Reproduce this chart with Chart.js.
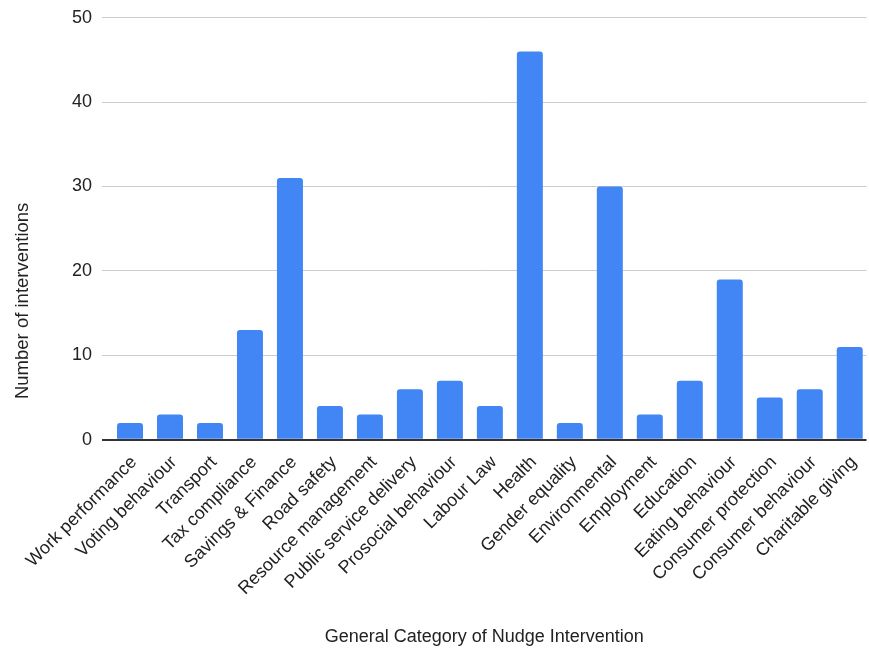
<!DOCTYPE html>
<html>
<head>
<meta charset="utf-8">
<script src="https://cdn.jsdelivr.net/npm/chart.js@4/dist/chart.umd.min.js"></script>
<style>
  html, body { margin: 0; padding: 0; background: #fff; }
  #wrap { width: 869px; height: 648px; }
</style>
</head>
<body>
<div id="wrap"><canvas id="c" width="869" height="648"></canvas></div>
<script>
const categories = [
  "Work performance", "Voting behaviour", "Transport", "Tax compliance",
  "Savings & Finance", "Road safety", "Resource management",
  "Public service delivery", "Prosocial behaviour", "Labour Law", "Health",
  "Gender equality", "Environmental", "Employment", "Education",
  "Eating behaviour", "Consumer protection", "Consumer behaviour",
  "Charitable giving"
];
const interventions = [2, 3, 2, 13, 31, 4, 3, 6, 7, 4, 46, 2, 30, 3, 7, 19, 5, 6, 11];
const yTicks = [0, 10, 20, 30, 40, 50];
const xTitle = 'General Category of Nudge Intervention';
const yTitle = 'Number of interventions';

const FONT = "'Liberation Sans', Arial, sans-serif";

// one bar per category, positioned by its index on a numeric x scale
const points = interventions.map((v, i) => ({ x: i, y: v }));

// vertical axis title, centred on the plot plus its label band
const yTitlePlugin = {
  id: 'yTitle',
  afterDraw(chart) {
    const { ctx, chartArea, height } = chart;
    const cy = (chartArea.top + height - 64) / 2;
    ctx.save();
    ctx.font = '18.5px ' + FONT;
    ctx.fillStyle = '#222';
    ctx.textAlign = 'center';
    ctx.textBaseline = 'alphabetic';
    ctx.translate(28, cy);
    ctx.rotate(-Math.PI / 2);
    ctx.fillText(yTitle, 0, 0);
    ctx.restore();
  }
};

new Chart(document.getElementById('c'), {
  type: 'bar',
  data: {
    datasets: [{
      data: points,
      backgroundColor: '#4285F4',
      borderRadius: { topLeft: 3, topRight: 3, bottomLeft: 0, bottomRight: 0 },
      borderSkipped: 'start',
      categoryPercentage: 1,
      barPercentage: 0.65
    }]
  },
  plugins: [yTitlePlugin],
  options: {
    responsive: false,
    animation: false,
    devicePixelRatio: 1,
    layout: { padding: { top: 0, right: 0, left: 62, bottom: 0 } },
    plugins: { legend: { display: false }, tooltip: { enabled: false } },
    scales: {
      x: {
        type: 'linear',
        offset: false,
        min: -0.70,
        max: 18.42,
        afterBuildTicks: (axis) => { axis.ticks = categories.map((_, i) => ({ value: i })); },
        grid: { display: false },
        border: { display: false },
        ticks: {
          color: '#222',
          font: { family: FONT, size: 18 },
          maxRotation: 45, minRotation: 45,
          autoSkip: false,
          padding: 4,
          labelOffset: 4,
          callback: (v) => categories[v]
        },
        title: {
          display: true,
          text: xTitle,
          color: '#222',
          font: { family: FONT, size: 18 },
          padding: { top: 23, bottom: 0 }
        }
      },
      y: {
        min: 0, max: 50,
        afterBuildTicks: (axis) => { axis.ticks = yTicks.map(v => ({ value: v })); },
        grid: {
          drawTicks: false,
          color: (ctx) => ctx.tick && ctx.tick.value === 0 ? '#333' : '#cccccc',
          lineWidth: (ctx) => ctx.tick && ctx.tick.value === 0 ? 2 : 1
        },
        border: { display: false },
        ticks: {
          color: '#222',
          font: { family: FONT, size: 18, lineHeight: 0.85 },
          padding: 10
        }
      }
    }
  }
});
</script>
</body>
</html>
